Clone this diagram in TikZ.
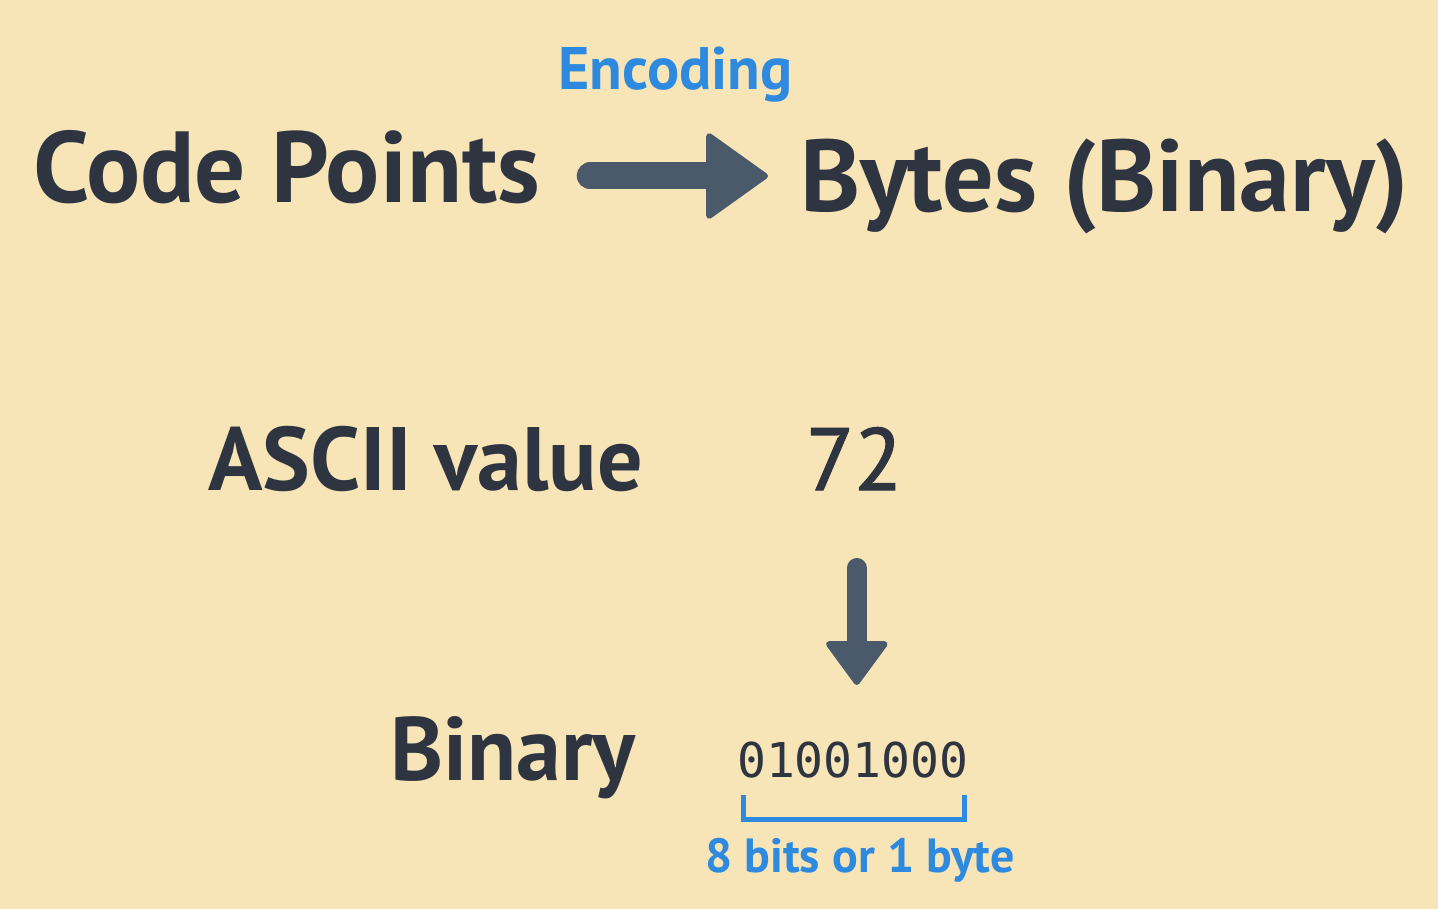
\documentclass[tikz,border=0pt]{standalone}
\usepackage{fontspec}
\setmainfont{PT Sans}
\newfontfamily\binfont{DejaVu Sans Mono}
\newfontfamily\valfont{PT Sans}[FakeBold=1.5]
\usetikzlibrary{arrows.meta,calc}

\definecolor{paper}{HTML}{F8E5B7}
\definecolor{ink}{HTML}{2E3440}
\definecolor{slate}{HTML}{4A5A6B}
\definecolor{azure}{HTML}{2E8ADF}

\tikzset{
  words/.style={anchor=base west, inner sep=0pt, text=ink},
  bigarrow/.style n args={3}{draw=slate, line cap=round, line width=#1,
    -{Triangle[length=#2, width=#3, line width=6pt, round, fill=slate]}},
}

\begin{document}
\begin{tikzpicture}[x=1pt, y=-1pt]

% Background
\fill[paper] (0,0) rectangle (1438,909);
\useasboundingbox (0,0) rectangle (1438,909);

% Top line
\node[words, font=\fontsize{101}{101}\selectfont\bfseries] (codepts) at (33,203) {Code Points};
\node[words, font=\fontsize{102}{102}\selectfont\bfseries] (bytes) at (800,212) {Bytes (Binary)};
\node[words, text=azure, font=\fontsize{60}{60}\selectfont\bfseries] (encoding) at (558,90) {Encoding};

% Encoding arrow
\draw[bigarrow={27pt}{64pt}{90pt}] ($(codepts.base east)+(50,-27)$) -- ($(bytes.base west)+(-32,-36)$);

% ASCII value
\node[words, font=\fontsize{90}{90}\selectfont\bfseries] (ascii) at (208,490) {ASCII value};
\node[words, font=\fontsize{88}{88}\valfont] (val) at (806,490) {72};

% Binary
\node[words, font=\fontsize{90}{90}\selectfont\bfseries] (binlbl) at (390,780) {Binary};
\node[words, font=\fontsize{48}{48}\binfont] (bits) at (737,777) {01001000};

% Down arrow
\coordinate (bitstop) at ($(bits.base)+(4,-92)$);
\draw[bigarrow={20pt}{46pt}{66pt}] ($(bitstop |- val.base)+(0,78)$) -- (bitstop);

% Bracket under the byte
\draw[azure, line width=5pt] ($(bits.base west)+(6,18)$) |- ($(bits.base east)+(-4,42)$) -- ($(bits.base east)+(-4,18)$);
\node[words, text=azure, font=\fontsize{48}{48}\selectfont\bfseries] (bytelbl) at (705,872) {8 bits or 1 byte};

\end{tikzpicture}
\end{document}
